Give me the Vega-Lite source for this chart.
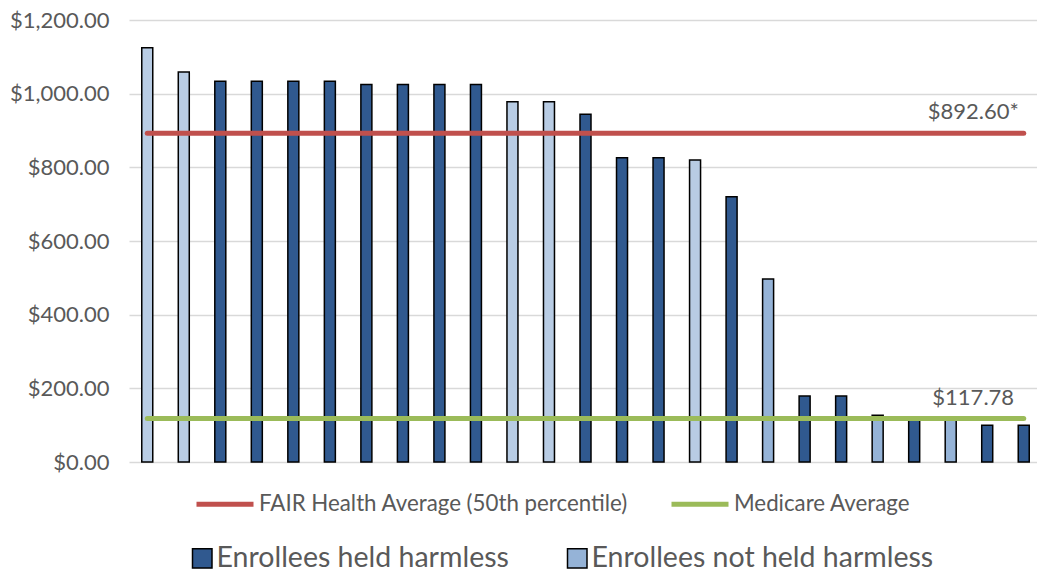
{
  "$schema": "https://vega.github.io/schema/vega-lite/v6.json",
  "width": 913,
  "height": 442,
  "autosize": {"type": "none"},
  "padding": {"left": 129, "top": 20, "right": 0, "bottom": 111},
  "background": "white",
  "config": {
    "font": "Lato",
    "view": {"stroke": null},
    "axis": {"labelFont": "Lato", "labelColor": "#595959"},
    "legend": {"labelFont": "Lato", "labelColor": "#595959"}
  },
  "datasets": {
    "bars": [
      {"id": 1, "cost": 1125, "group": "Enrollees not held harmless"},
      {"id": 2, "cost": 1059, "group": "Enrollees not held harmless"},
      {"id": 3, "cost": 1034, "group": "Enrollees held harmless"},
      {"id": 4, "cost": 1034, "group": "Enrollees held harmless"},
      {"id": 5, "cost": 1034, "group": "Enrollees held harmless"},
      {"id": 6, "cost": 1034, "group": "Enrollees held harmless"},
      {"id": 7, "cost": 1025, "group": "Enrollees held harmless"},
      {"id": 8, "cost": 1025, "group": "Enrollees held harmless"},
      {"id": 9, "cost": 1025, "group": "Enrollees held harmless"},
      {"id": 10, "cost": 1025, "group": "Enrollees held harmless"},
      {"id": 11, "cost": 978, "group": "Enrollees not held harmless"},
      {"id": 12, "cost": 978, "group": "Enrollees not held harmless"},
      {"id": 13, "cost": 944, "group": "Enrollees held harmless"},
      {"id": 14, "cost": 826, "group": "Enrollees held harmless"},
      {"id": 15, "cost": 826, "group": "Enrollees held harmless"},
      {"id": 16, "cost": 820, "group": "Enrollees not held harmless"},
      {"id": 17, "cost": 720, "group": "Enrollees held harmless"},
      {"id": 18, "cost": 497, "group": "Enrollees not held harmless (b)"},
      {"id": 19, "cost": 179, "group": "Enrollees held harmless"},
      {"id": 20, "cost": 179, "group": "Enrollees held harmless"},
      {"id": 21, "cost": 127, "group": "Enrollees not held harmless (b)"},
      {"id": 22, "cost": 116, "group": "Enrollees held harmless"},
      {"id": 23, "cost": 116, "group": "Enrollees not held harmless (b)"},
      {"id": 24, "cost": 100, "group": "Enrollees held harmless"},
      {"id": 25, "cost": 100, "group": "Enrollees held harmless"}
    ],
    "averages": [
      {"series": "FAIR Health Average (50th percentile)", "id": 1, "value": 892.6},
      {"series": "FAIR Health Average (50th percentile)", "id": 25, "value": 892.6},
      {"series": "Medicare Average", "id": 1, "value": 117.78},
      {"series": "Medicare Average", "id": 25, "value": 117.78}
    ],
    "labels": [
      {"id": 24, "value": 892.6, "label": "$892.60*"},
      {"id": 24, "value": 117.78, "label": "$117.78"}
    ]
  },
  "layer": [
    {
      "data": {"name": "bars"},
      "mark": {"type": "bar", "size": 11, "stroke": "black", "strokeWidth": 1.5},
      "encoding": {
        "x": {"field": "id", "type": "ordinal", "axis": null, "scale": {"paddingInner": 0, "paddingOuter": 0}},
        "y": {
          "field": "cost", "type": "quantitative",
          "scale": {"domain": [0, 1200]},
          "axis": {
            "values": [0, 200, 400, 600, 800, 1000, 1200],
            "format": "$,.2f",
            "title": null,
            "domain": false,
            "ticks": false,
            "labelFontSize": 22,
            "labelPadding": 20,
            "gridColor": "#d9d9d9",
            "gridWidth": 1.5
          }
        },
        "fill": {
          "field": "group", "type": "nominal",
          "scale": {
            "domain": ["Enrollees held harmless", "Enrollees not held harmless", "Enrollees not held harmless (b)"],
            "range": ["#30598f", "#b8cce4", "#95b3d7"]
          },
          "legend": {
            "values": ["Enrollees held harmless", "Enrollees not held harmless (b)"],
            "labelExpr": "replace(datum.label, ' (b)', '')",
            "title": null,
            "orient": "none",
            "direction": "horizontal",
            "legendX": 59,
            "legendY": 524,
            "symbolType": "square",
            "symbolSize": 380,
            "symbolStrokeColor": "black",
            "symbolStrokeWidth": 1.5,
            "labelFontSize": 28.5,
            "labelOffset": 0,
            "columnPadding": 54,
            "labelLimit": 500
          }
        }
      }
    },
    {
      "data": {"name": "averages"},
      "mark": {"type": "line", "strokeWidth": 5, "strokeCap": "round"},
      "encoding": {
        "x": {"field": "id", "type": "ordinal"},
        "y": {"field": "value", "type": "quantitative"},
        "stroke": {
          "field": "series", "type": "nominal",
          "scale": {"domain": ["FAIR Health Average (50th percentile)", "Medicare Average"], "range": ["#c0504d", "#9bbb59"]},
          "legend": {
            "title": null,
            "orient": "none",
            "direction": "horizontal",
            "legendX": 65,
            "legendY": 453,
            "symbolType": "stroke",
            "symbolSize": 3249,
            "symbolStrokeWidth": 5,
            "labelFontSize": 22.3,
            "labelOffset": 3,
            "columnPadding": 33,
            "labelLimit": 500
          }
        }
      }
    },
    {
      "data": {"name": "labels"},
      "mark": {"type": "text", "fontSize": 22, "color": "#595959", "dx": -14, "dy": -14, "baseline": "alphabetic", "align": "center"},
      "encoding": {
        "x": {"field": "id", "type": "ordinal"},
        "y": {"field": "value", "type": "quantitative"},
        "text": {"field": "label"}
      }
    }
  ]
}
